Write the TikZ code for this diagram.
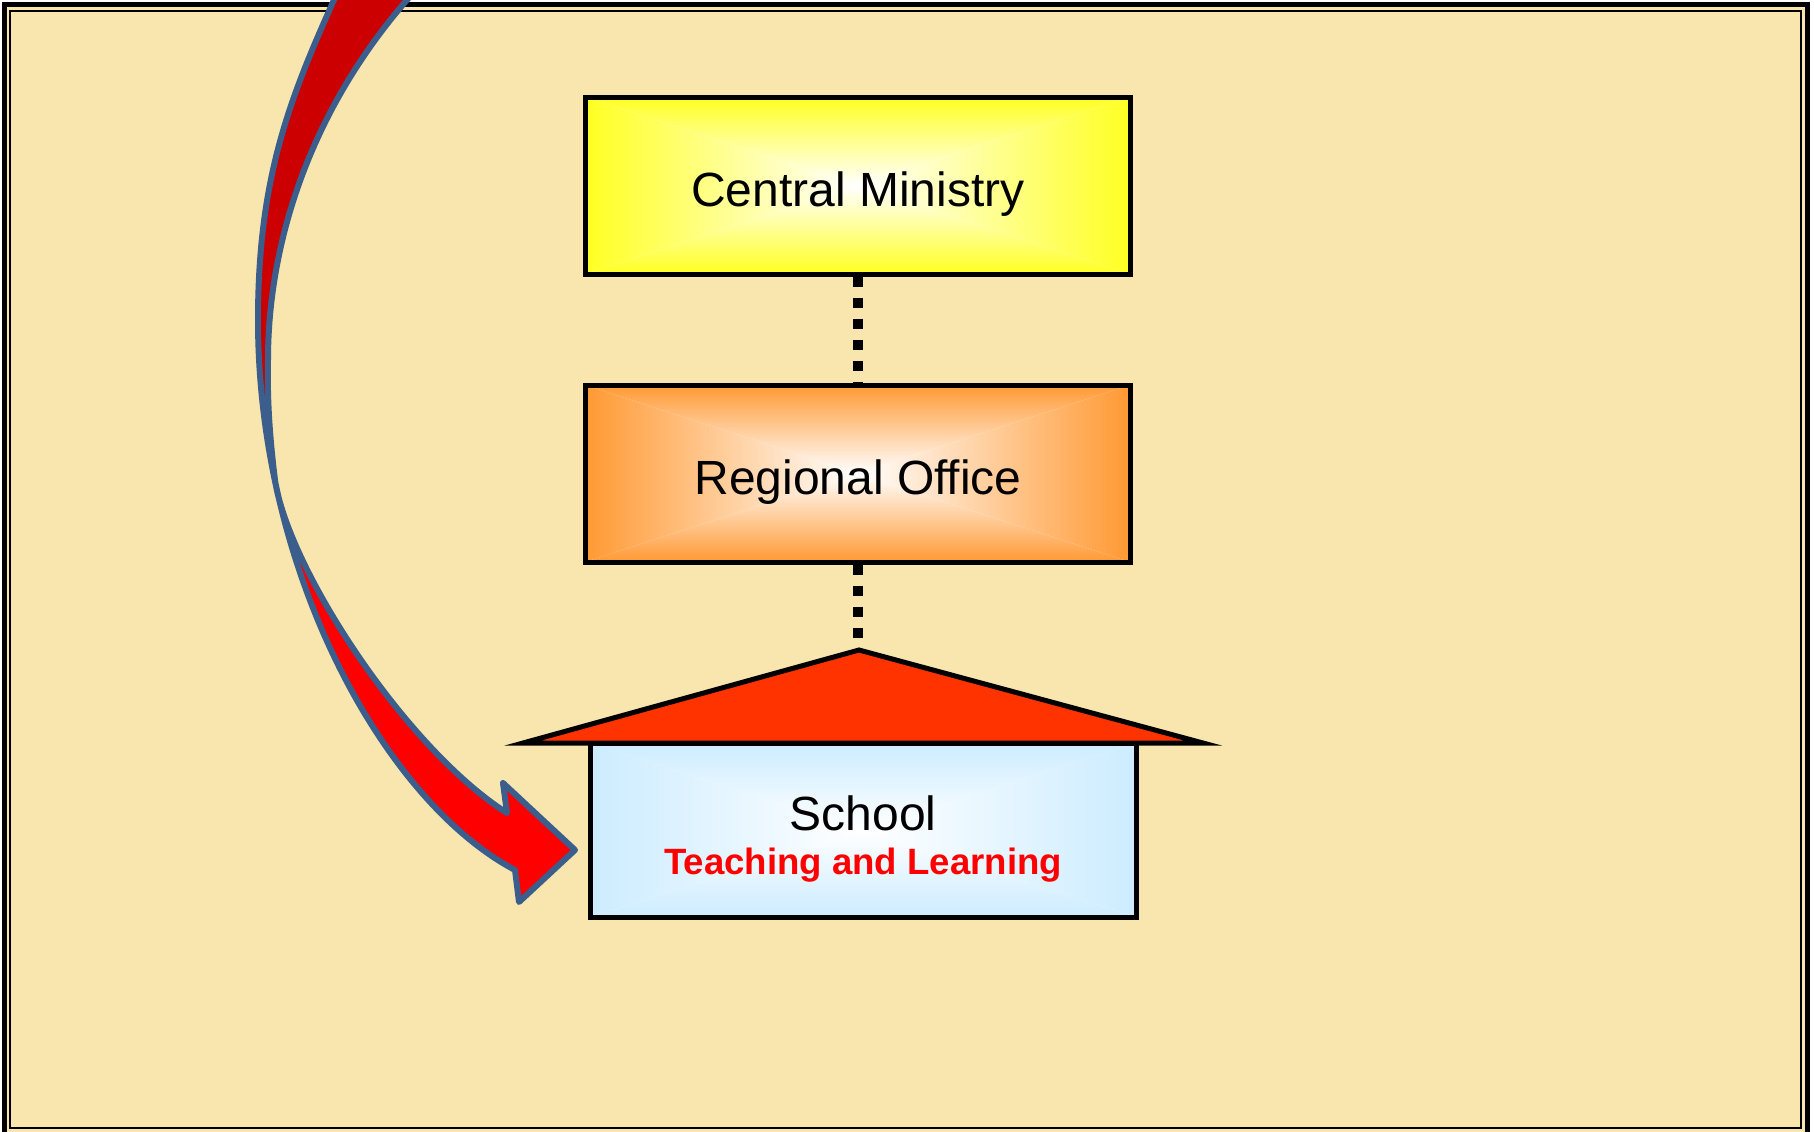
\documentclass[tikz,border=0pt]{standalone}
\usepackage{fontspec}
\setmainfont{Liberation Sans}
\definecolor{cream}{HTML}{F9E6AF}
\definecolor{cmyellow}{HTML}{FFFF22}
\definecolor{roorange}{HTML}{FF9933}
\definecolor{schblue}{HTML}{CCECFF}
\definecolor{roofred}{HTML}{FF3300}
\definecolor{arrblue}{HTML}{3B5E8C}
\definecolor{backred}{HTML}{CC0000}
\definecolor{frontred}{HTML}{FF0000}
\tikzset{
  rectgrad/.style={path picture={
    \coordinate (gNW) at (path picture bounding box.north west);
    \coordinate (gNE) at (path picture bounding box.north east);
    \coordinate (gSW) at (path picture bounding box.south west);
    \coordinate (gSE) at (path picture bounding box.south east);
    \coordinate (gC) at (path picture bounding box.center);
    \begin{scope}
      \clip (gNW) -- (gC) -- (gNE) -- cycle;
      \shade[top color=#1, bottom color=white] (gNW) rectangle (gC -| gNE);
    \end{scope}
    \begin{scope}
      \clip (gSW) -- (gC) -- (gSE) -- cycle;
      \shade[top color=white, bottom color=#1] (gC -| gSW) rectangle (gSE);
    \end{scope}
    \begin{scope}
      \clip (gNW) -- (gC) -- (gSW) -- cycle;
      \shade[left color=#1, right color=white] (gNW) rectangle (gC |- gSW);
    \end{scope}
    \begin{scope}
      \clip (gNE) -- (gC) -- (gSE) -- cycle;
      \shade[left color=white, right color=#1] (gC |- gNE) rectangle (gSE);
    \end{scope}
  }},
  orgbox/.style={draw=black, fill=white, line width=2.5pt, minimum width=272.5pt,
    minimum height=88.5pt, inner sep=0pt, rectgrad=#1},
  lbl/.style={anchor=base, font=\fontsize{24}{28}\selectfont, inner sep=0pt},
  dotline/.style={line width=5pt, dash pattern=on 5pt off 5.5pt},
}
\def\arrowpath{(352,-40) .. controls (298,80) and (258,160) .. (258,320)
  .. controls (258,570) and (383,800) .. (515,870)
  -- (519,902) -- (575,850) -- (503,783) -- (507,813)
  .. controls (405,748) and (288,568) .. (275,480)
  .. controls (270,440) and (267,400) .. (268,360)
  .. controls (268,230) and (320,80) .. (445,-40) -- cycle}
\begin{document}
\begin{tikzpicture}[x=0.5pt, y=-0.5pt]
  \useasboundingbox (0,0) rectangle (1814,1131);
  \clip (0,0) rectangle (1814,1131);
  % frame
  \fill[white] (0,0) rectangle (1814,1131);
  \fill[cream] (4.5,4.5) rectangle (1807,1140);
  \draw[line width=2.5pt] (4.5,4.5) rectangle (1807,1140);
  \draw[line width=1pt] (10,11) rectangle (1801,1128);
  % boxes
  \node[orgbox=cmyellow] (cm) at (857.5,185.5) {};
  \node[orgbox=roorange] (ro) at (857.5,473.5) {};
  \node[orgbox=schblue, minimum width=273pt, minimum height=87pt] (sc) at (863,830) {};
  \coordinate (apex) at (859,650);
  \filldraw[fill=roofred, draw=black, line width=2.5pt, line join=miter] (523,743) -- (apex) -- (1203,743) -- cycle;
  % dotted connectors
  \draw[dotline] (cm.south) -- (ro.north);
  \draw[dotline] (ro.south) -- (ro.south |- apex);
  % labels
  \node[lbl] (cmt) at (858,206) {Central Ministry};
  \node[lbl] (rot) at (858,494) {Regional Office};
  \node[lbl] (sct) at (863,830) {School};
  \node[lbl, font=\fontsize{18.3}{22}\selectfont\bfseries, text=frontred] (tlt) at (863,874) {Teaching and Learning};
  % curved arrow
  \fill[frontred] \arrowpath;
  \begin{scope}
    \clip (0,-100) rectangle (1814,430);
    \fill[backred] \arrowpath;
  \end{scope}
  \draw[arrblue, line width=3pt, line join=round] \arrowpath;
\end{tikzpicture}
\end{document}
